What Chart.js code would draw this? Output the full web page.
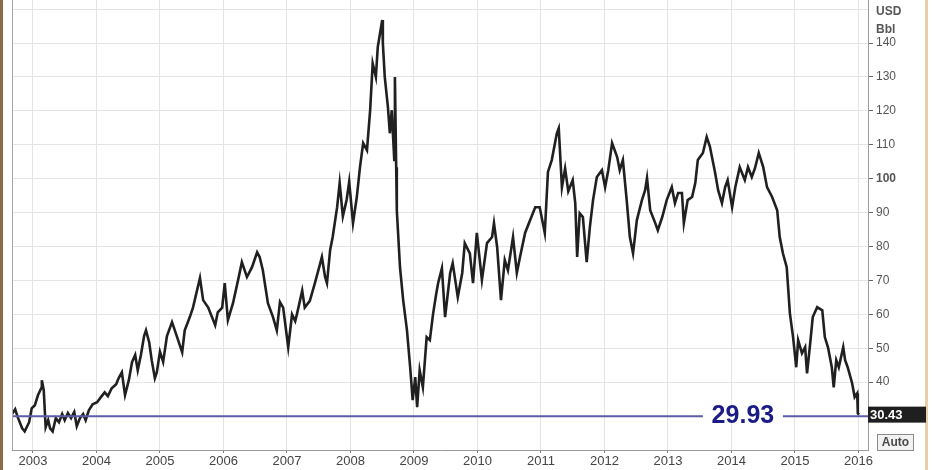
<!DOCTYPE html>
<html>
<head>
<meta charset="utf-8">
<script src="https://cdn.jsdelivr.net/npm/chart.js@4.4.1/dist/chart.umd.min.js"></script>
<style>
    body { margin: 0; background: #fff; }
    #oil_chart { display: block; }
</style>
</head>
<body>
<canvas id="oil_chart" width="932" height="470"></canvas>
<script>
/** DATA **/
// decimal year of each point
const years = [
    2002.67, 2002.72, 2002.76, 2002.83, 2002.87, 2002.94, 2002.98, 2003.03, 2003.08, 2003.13,
    2003.14, 2003.17, 2003.20, 2003.24, 2003.27, 2003.31, 2003.36, 2003.41, 2003.46, 2003.50,
    2003.55, 2003.60, 2003.65, 2003.69, 2003.74, 2003.79, 2003.83, 2003.88, 2003.94, 2004.01,
    2004.07, 2004.13, 2004.18, 2004.24, 2004.31, 2004.35, 2004.40, 2004.45, 2004.51, 2004.56,
    2004.61, 2004.65, 2004.70, 2004.75, 2004.78, 2004.83, 2004.87, 2004.92, 2004.95, 2005.00,
    2005.05, 2005.11, 2005.19, 2005.27, 2005.35, 2005.39, 2005.47, 2005.52, 2005.63, 2005.68,
    2005.76, 2005.87, 2005.91, 2005.98, 2006.02, 2006.07, 2006.15, 2006.23, 2006.29, 2006.37,
    2006.45, 2006.53, 2006.57, 2006.62, 2006.70, 2006.78, 2006.84, 2006.89, 2006.94, 2007.02,
    2007.08, 2007.13, 2007.16, 2007.24, 2007.28, 2007.36, 2007.44, 2007.55, 2007.60, 2007.63,
    2007.68, 2007.72, 2007.79, 2007.83, 2007.88, 2007.94, 2007.98, 2008.04, 2008.10, 2008.15,
    2008.20, 2008.26, 2008.31, 2008.35, 2008.40, 2008.43, 2008.50, 2008.51, 2008.54, 2008.59,
    2008.62, 2008.65, 2008.69, 2008.70, 2008.72, 2008.73, 2008.78, 2008.83, 2008.89, 2008.94,
    2008.98, 2009.02, 2009.05, 2009.09, 2009.14, 2009.20, 2009.25, 2009.30, 2009.35, 2009.38,
    2009.44, 2009.49, 2009.57, 2009.61, 2009.69, 2009.76, 2009.80, 2009.88, 2009.93, 2009.99,
    2010.07, 2010.15, 2010.23, 2010.26, 2010.31, 2010.37, 2010.43, 2010.48, 2010.56, 2010.62,
    2010.67, 2010.75, 2010.83, 2010.91, 2010.98, 2011.06, 2011.11, 2011.17, 2011.25, 2011.28,
    2011.33, 2011.38, 2011.43, 2011.50, 2011.54, 2011.57, 2011.61, 2011.66, 2011.72, 2011.77,
    2011.82, 2011.88, 2011.96, 2012.01, 2012.06, 2012.12, 2012.20, 2012.24, 2012.29, 2012.35,
    2012.40, 2012.45, 2012.51, 2012.59, 2012.64, 2012.67, 2012.72, 2012.80, 2012.84, 2012.91,
    2012.98, 2013.06, 2013.11, 2013.16, 2013.22, 2013.25, 2013.31, 2013.38, 2013.43, 2013.47,
    2013.55, 2013.61, 2013.66, 2013.74, 2013.79, 2013.85, 2013.90, 2013.94, 2014.01, 2014.06,
    2014.13, 2014.21, 2014.26, 2014.32, 2014.37, 2014.43, 2014.50, 2014.56, 2014.64, 2014.72,
    2014.76, 2014.81, 2014.87, 2014.92, 2014.97, 2015.02, 2015.05, 2015.11, 2015.16, 2015.19,
    2015.24, 2015.28, 2015.35, 2015.43, 2015.47, 2015.52, 2015.58, 2015.61, 2015.65, 2015.69,
    2015.76, 2015.79, 2015.83, 2015.90, 2015.94, 2015.98, 2015.99, 2016.01
]

// USD per barrel
const prices = [
    30.6, 32.0, 29.7, 26.4, 25.5, 28.2, 32.3, 33.2, 36.2, 38.2,
    40.6, 37.6, 26.7, 28.8, 26.4, 25.5, 29.4, 28.2, 30.6, 28.8,
    30.9, 29.4, 31.2, 27.0, 29.4, 30.6, 28.8, 31.7, 33.5, 34.1,
    35.6, 37.0, 35.9, 38.2, 39.4, 41.2, 42.9, 36.2, 40.6, 45.9,
    48.0, 43.5, 48.0, 53.6, 55.3, 51.8, 46.5, 41.2, 42.9, 49.0,
    46.0, 53.6, 57.7, 53.3, 48.8, 55.3, 59.2, 62.0, 70.7, 64.2,
    62.0, 56.8, 60.6, 62.0, 69.2, 58.3, 63.3, 70.1, 75.4, 71.0,
    73.9, 78.3, 76.9, 73.0, 63.3, 59.2, 55.3, 63.6, 62.0, 50.3,
    60.0, 58.0, 60.3, 67.0, 62.0, 64.0, 69.2, 76.9, 71.0, 69.2,
    79.0, 82.8, 91.6, 98.7, 88.9, 93.8, 99.1, 86.9, 94.6, 103.4,
    110.5, 108.4, 120.2, 134.0, 130.0, 138.8, 146.8, 140.0, 130.0, 121.1,
    113.4, 120.2, 105.5, 130.0, 103.4, 90.7, 73.9, 64.2, 55.3, 44.4,
    34.7, 41.5, 32.6, 43.5, 38.5, 53.3, 52.4, 60.0, 66.0, 69.2,
    73.6, 59.2, 72.2, 75.1, 65.1, 72.2, 81.0, 78.0, 69.2, 84.0,
    70.1, 81.0, 82.8, 86.9, 79.8, 64.2, 76.0, 73.0, 82.8, 72.2,
    76.9, 84.0, 87.8, 91.6, 91.6, 84.0, 102.0, 105.5, 113.4, 114.9,
    97.5, 103.0, 96.3, 99.6, 92.8, 76.9, 89.8, 88.7, 75.4, 85.7,
    93.7, 100.5, 102.5, 97.5, 102.5, 110.5, 106.4, 102.5, 105.5, 93.7,
    82.8, 78.0, 87.8, 93.7, 96.6, 100.2, 90.7, 86.9, 84.8, 88.7,
    93.7, 97.5, 92.8, 95.8, 95.8, 86.9, 93.7, 94.6, 98.7, 105.5,
    107.6, 112.3, 109.5, 102.0, 96.6, 92.8, 97.5, 99.6, 91.6, 97.5,
    103.4, 99.6, 103.4, 100.5, 103.1, 107.6, 103.4, 97.5, 94.6, 90.7,
    82.8, 78.0, 73.9, 60.3, 53.3, 44.4, 52.4, 48.5, 50.3, 42.6,
    51.5, 59.2, 62.1, 61.2, 53.3, 50.3, 44.4, 38.5, 46.5, 44.4,
    50.3, 46.5, 44.4, 39.7, 35.6, 36.7, 30.8, 30.43
]

const yearTicks = [2003, 2004, 2005, 2006, 2007, 2008, 2009, 2010, 2011, 2012, 2013, 2014, 2015, 2016]
const priceTicks = [40, 50, 60, 70, 80, 90, 100, 110, 120, 130, 140]
const levelLine = 29.93
const levelLabelYear = 2014.18
const lastPrice = 30.43
const unitLines = ['USD', 'Bbl']

const xMin = 2002.67, xMax = 2016.15
const yMin = 20, yMax = 152.7

const FONT = "'Liberation Sans', Arial, sans-serif"

/** Decorations: frame, level label, last price box **/
const decorations = {
    id: 'decorations',
    beforeDraw(chart) {
        const ctx = chart.ctx
        ctx.save()
        ctx.fillStyle = '#ffffff'
        ctx.fillRect(0, 0, chart.width, chart.height)
        // brown outer edge on the left, tan edge on the right
        ctx.fillStyle = '#8d6b46'
        ctx.fillRect(0, 0, 3, chart.height)
        ctx.fillStyle = '#e9cfa8'
        ctx.fillRect(925, 0, 3, chart.height)
        ctx.restore()
    },
    afterDatasetsDraw(chart) {
        const ctx = chart.ctx
        const x = chart.scales.x, y = chart.scales.y
        const area = chart.chartArea
        ctx.save()

        // left frame line
        ctx.strokeStyle = '#a8a8a8'
        ctx.lineWidth = 1
        ctx.beginPath()
        ctx.moveTo(area.left + 0.5, area.top)
        ctx.lineTo(area.left + 0.5, area.bottom)
        ctx.stroke()

        // level value written on the line
        const lx = x.getPixelForValue(levelLabelYear)
        const ly = y.getPixelForValue(levelLine)
        ctx.fillStyle = '#ffffff'
        ctx.fillRect(lx - 40, ly - 3, 80, 6)
        ctx.font = 'bold 25px ' + FONT
        ctx.fillStyle = '#1b1b86'
        ctx.textAlign = 'center'
        ctx.textBaseline = 'middle'
        ctx.fillText(levelLine.toFixed(2), lx, ly)

        // last price box on the axis
        const py = y.getPixelForValue(lastPrice)
        ctx.fillStyle = '#1f1f1f'
        ctx.fillRect(area.right, py - 8, 58, 16)
        ctx.font = 'bold 13px ' + FONT
        ctx.fillStyle = '#ffffff'
        ctx.textAlign = 'left'
        ctx.fillText(lastPrice.toFixed(2), area.right + 2, py + 1)

        // Auto button
        ctx.fillStyle = '#f2f2f2'
        ctx.fillRect(877.5, 434.5, 36, 16)
        ctx.strokeStyle = '#8a8a8a'
        ctx.strokeRect(877.5, 434.5, 36, 16)
        ctx.font = 'bold 12px ' + FONT
        ctx.fillStyle = '#4a4a4a'
        ctx.textAlign = 'center'
        ctx.fillText('Auto', 895.5, 443)

        // unit header
        ctx.font = 'bold 12px ' + FONT
        ctx.fillStyle = '#555555'
        ctx.textAlign = 'left'
        ctx.fillText(unitLines[0], 876, 12)
        ctx.fillText(unitLines[1], 876, 30)
        ctx.restore()
    }
}

var oil_chart = new Chart(
    document.getElementById('oil_chart').getContext('2d'),
    config = {
        type: 'line',
        data: {
            datasets: [{
                data: [{x: xMin, y: levelLine}, {x: xMax, y: levelLine}],
                borderColor: '#5d5da6',
                borderWidth: 2,
                pointRadius: 0,
            }, {
                data: years.map((yr, i) => ({x: yr, y: prices[i]})),
                borderColor: '#202020',
                borderWidth: 2.6,
                pointRadius: 0,
                tension: 0,
            }]
        },
        options: {
            responsive: false,
            animation: false,
            layout: {
                padding: {left: 12, top: 0, right: 0, bottom: 0}
            },
            plugins: {
                legend: { display: false },
                tooltip: { enabled: false },
            },
            scales: {
                x: {
                    type: 'linear',
                    min: xMin,
                    max: xMax,
                    afterBuildTicks: (scale) => { scale.ticks = yearTicks.map(v => ({value: v})) },
                    afterFit: (scale) => {
                        scale.height = 20
                        scale.paddingLeft = 0
                        scale.paddingRight = 0
                    },
                    grid: {
                        color: '#e4e4e4',
                        tickColor: '#777',
                        tickLength: 3,
                    },
                    border: { color: '#9a9a9a' },
                    ticks: {
                        autoSkip: false,
                        maxRotation: 0,
                        padding: 1,
                        color: '#444',
                        font: { family: FONT, size: 13 },
                        callback: (v) => String(v),
                    }
                },
                y: {
                    type: 'linear',
                    position: 'right',
                    min: yMin,
                    max: yMax,
                    afterBuildTicks: (scale) => {
                        scale.ticks = [20, 30].concat(priceTicks, [150]).map(v => ({value: v}))
                    },
                    afterFit: (scale) => {
                        scale.width = 64
                        scale.paddingTop = 0
                        scale.paddingBottom = 0
                    },
                    grid: {
                        color: '#e4e4e4',
                        tickColor: (c) => priceTicks.includes(c.tick.value) ? '#666' : 'rgba(0,0,0,0)',
                        tickLength: 5,
                    },
                    border: { color: '#9a9a9a' },
                    ticks: {
                        padding: 3,
                        color: '#555',
                        font: (c) => ({
                            family: FONT,
                            size: 12,
                            weight: c.tick && c.tick.value === 100 ? 'bold' : 'normal'
                        }),
                        callback: (v) => priceTicks.includes(v) ? String(v) : '',
                    }
                }
            },
        },
        plugins: [decorations]
    }
);
</script>
</body>
</html>
